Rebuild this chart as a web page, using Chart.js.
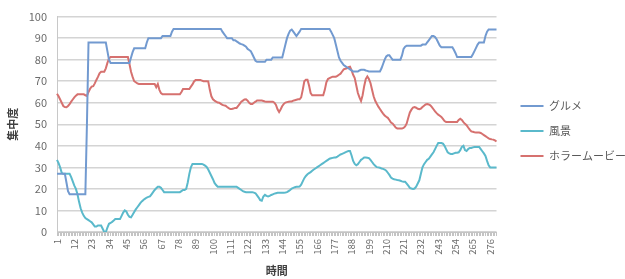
<html>
  <head>
    <title>集中度</title>
    <script src="https://cdn.jsdelivr.net/npm/chart.js"></script>
    <style>
      html, body { margin: 0; padding: 0; overflow: hidden; background: #fff; }
      #wrap { width: 636px; height: 279px; }
    </style>
  </head>
  <body>
    <div id="wrap"><canvas id="myChart"></canvas></div>

  <script>

    // series names (legend)
    const seriesNames = ["グルメ", "風景", "ホラームービー"];

    // time index 1..280, a label shown every 11 steps
    const times = [];
    for (let t = 1; t <= 280; t++) times.push(t);
    const labelEvery = 11;

    // values, 10 per row
    const gourmet = [
      27,27,27,27,27,27,23,19,17.5,17.5,
      17.5,17.5,17.5,17.5,17.5,17.5,17.5,17.5,17.5,50,
      88,88,88,88,88,88,88,88,88,88,
      88,88,84,80,78.5,78.5,78.5,78.5,78.5,78.5,
      78.5,78.5,78.5,78.5,78.5,78.5,78.5,81,83.5,85.3,
      85.3,85.3,85.3,85.3,85.3,85.3,85.3,88,90,90,
      90,90,90,90,90,90,90,91,91,91,
      91,91,91,93,94.3,94.3,94.3,94.3,94.3,94.3,
      94.3,94.3,94.3,94.3,94.3,94.3,94.3,94.3,94.3,94.3,
      94.3,94.3,94.3,94.3,94.3,94.3,94.3,94.3,94.3,94.3,
      94.3,94.3,94.3,94.3,94.3,93,92,91,90,90,
      90,90,89,89,88.5,88,87.5,87.2,87,86.5,
      86,85,84.5,84,82.5,81,79.5,79,79,79,
      79,79,79,80,80,80,80,81,81,81,
      81,81,81,81,84,87,90,92,93.5,94,
      93,92,91,92,93,94.3,94.3,94.3,94.3,94.3,
      94.3,94.3,94.3,94.3,94.3,94.3,94.3,94.3,94.3,94.3,
      94.3,94.3,94.3,94.3,93,91.5,90,87,84,81,
      79.5,78.5,77.5,77,76.5,76,75.5,75,74.5,74.5,
      74.5,74.5,75,75.3,75.3,75.3,75,74.8,74.5,74.5,
      74.5,74.5,74.5,74.5,74.5,74.5,76,78,80,81.5,
      82,82,81,80,80,80,80,80,80,82,
      85,86,86.5,86.5,86.5,86.5,86.5,86.5,86.5,86.5,
      86.5,86.5,87,87,87,88,89,90,91,91,
      90.5,89.5,88,86.5,85.8,85.8,85.8,85.8,85.8,85.8,
      85.8,85.8,84.5,83,81.2,81.2,81.2,81.2,81.2,81.2,
      81.2,81.2,81.2,81.2,82.5,84,85.5,87,88,88,
      88,88,91,93,94,94,94,94,94,94
    ];

    const scenery = [
      33.5,32,30,27.5,27,27,27,27,27,25.5,
      23.5,21.5,20,17.5,14,11,9,7.5,6.5,6,
      5.5,5,4.5,3.5,2.5,2.5,3,3,3,1.5,
      0,0,2,3.8,4.2,4.7,5.3,6,6,6,
      6,7.5,9,10,9.5,8,7,6.8,8,9.3,
      10.5,11.5,12.5,13.5,14.3,15,15.5,16,16.3,16.5,
      17.5,18.5,19.5,20.3,21,21,20.5,19.5,18.5,18.5,
      18.5,18.5,18.5,18.5,18.5,18.5,18.5,18.5,18.5,19,
      19.5,19.5,20,23,27,30,31.6,31.6,31.6,31.6,
      31.6,31.6,31.6,31.3,30.8,30.2,29,27.5,26,24.5,
      22.8,21.8,21,21,21,21,21,21,21,21,
      21,21,21,21,21,20.5,20,19.5,19,18.7,
      18.5,18.5,18.5,18.5,18.5,18.3,18,17,16,14.8,
      14.5,16.5,17.3,16.8,16.5,16.8,17.2,17.5,17.8,18,
      18.2,18.2,18.2,18.2,18.2,18.3,18.5,19,19.5,20.2,
      20.5,20.8,21,21,21.1,22,23.5,25,26,26.8,
      27.3,27.8,28.4,29,29.5,30,30.5,31,31.5,32,
      32.5,33,33.5,34,34.2,34.4,34.6,34.6,35,35.5,
      36,36.3,36.6,37,37.3,37.6,37.6,35.5,33,31.6,
      31,31.5,32.5,33.5,34,34.6,34.6,34.5,34.3,33.5,
      32.5,31.5,30.8,30.1,30,29.8,29.5,29.3,29,28.5,
      27.5,26.5,25.3,24.8,24.5,24.3,24.1,24,23.8,23.5,
      23.3,23.3,22.5,21.5,20.5,20.2,20,20.2,21,22.5,
      24,27,30,31.5,32.5,33.5,34,35,36,37,
      38.5,40,41.3,41.3,41.3,41,40,38.5,37,36.5,
      36.2,36.2,36.5,36.8,36.8,37,38,39.5,40,38,
      37.6,38.5,39,39,39.3,39.5,39.5,39.5,39.5,38.5,
      37.5,36.5,35.3,33,31,30,30,30,30,30
    ];

    const horror = [
      64.2,63,61.5,60,58.5,58,57.9,58.5,59.4,60.5,
      61.5,62.5,63.3,63.9,63.9,63.9,63.9,63.9,63.5,63.2,
      65,66.5,67.5,67.7,69,70.6,72,73.7,74.4,74.4,
      74.4,76,78.5,80.5,81.2,81.2,81.2,81.2,81.2,81.2,
      81.2,81.2,81.2,81.2,81.2,81.2,78,74.4,72,70,
      69.5,69,68.7,68.7,68.7,68.7,68.7,68.7,68.7,68.7,
      68.7,68.7,68.7,67.2,68.7,66,64.5,63.9,63.9,63.9,
      63.9,63.9,63.9,63.9,63.9,63.9,63.9,63.9,63.9,65,
      66.4,66.4,66.4,66.4,66.4,67.5,68.5,69.9,70.6,70.6,
      70.6,70.6,70.3,70,70,70,69.9,66,63,61.6,
      61,60.5,60.1,60,59.5,59,58.8,58.6,58,57.5,
      57.1,57.1,57.3,57.6,57.6,58.5,59.5,60.5,61,61.5,
      61.6,61,60,59.4,59.4,60,60.5,61.1,61.1,61.1,
      61,60.8,60.6,60.5,60.5,60.5,60.5,60.5,60,59,
      57,55.7,57,58.5,59.5,60.1,60.3,60.5,60.6,60.6,
      61,61.2,61.4,61.6,61.6,62.5,66,70,70.7,70.7,
      68,64.5,63.5,63.5,63.5,63.5,63.5,63.5,63.5,63.5,
      66,69.5,71,71.4,71.8,72.1,72.1,72.1,72.5,73,
      73.5,74.5,75.5,75.8,76,76.5,76.7,75,73,71.5,
      68,64.5,62.5,60.8,63.5,67.7,71,72.2,71,69.2,
      66,63,60.9,59.5,58.2,57.1,56,55,54.1,53.5,
      53,52,50.8,50.4,49.5,48.5,48.1,48.1,48.1,48.1,
      48.3,49,50.4,53,55.5,56.8,57.8,58,57.7,57.2,
      57,57.3,58,58.6,59.2,59.4,59.2,58.8,58,57,
      56,55.2,54.5,54,53.4,52.5,51.5,51.1,51.1,51.1,
      51.1,51.1,51.1,51.1,51.1,52,52.6,52,51,50.2,
      49.6,48.5,47.5,46.7,46.5,46.3,46.2,46.2,46.2,46,
      45.5,45,44.5,44,43.5,43.2,43,42.9,42.5,42
    ];

    const seriesColors = ["#729ad0", "#5ab9cb", "#d6716f"];

    Chart.defaults.font.family = "'Noto Sans CJK JP', 'Noto Sans', sans-serif";
    Chart.defaults.color = "#6b6b6b";

    const data = {
      labels: times,
      datasets: [gourmet, scenery, horror].map((vals, k) => ({
        label: seriesNames[k],
        data: vals,
        borderColor: seriesColors[k],
        backgroundColor: seriesColors[k],
        borderWidth: 2,
        pointRadius: 0,
        pointStyle: 'line',
        tension: 0
      }))
    };

    const config = {
      type: 'line',
      data: data,
      options: {
        responsive: true,
        maintainAspectRatio: false,
        animation: false,
        layout: { padding: { top: 10, left: 0, right: 0, bottom: 0 } },
        plugins: {
          tooltip: { enabled: false },
          legend: {
            position: 'right',
            align: 'start',
            maxWidth: 130,
            title: { display: true, text: '', font: { size: 10 }, padding: { top: 64.5, bottom: 0 } },
            labels: {
              usePointStyle: true,
              pointStyle: 'line',
              pointStyleWidth: 23,
              padding: 14,
              color: '#595959',
              font: { size: 11 }
            }
          }
        },
        scales: {
          x: {
            ticks: {
              autoSkip: false,
              minRotation: 90,
              maxRotation: 90,
              padding: 3,
              font: { size: 9.5 },
              color: '#6b6b6b',
              callback: function(v, i) {
                return i % labelEvery === 0 ? this.getLabelForValue(v) : '';
              }
            },
            grid: { drawOnChartArea: false, drawTicks: true, tickLength: 4, color: '#c4c4c4' },
            border: { display: true, color: '#c4c4c4' },
            title: {
              display: true, text: '時間', color: '#404040',
              font: { size: 11, weight: 'bold' }, padding: { top: 0, bottom: 1.5 }
            },
            afterFit: function(s) { s.height = 47; }
          },
          y: {
            min: 0,
            max: 100,
            ticks: { stepSize: 10, padding: 10, font: { size: 11 }, color: '#6b6b6b' },
            grid: { color: '#d4d4d4', lineWidth: 1.5, drawTicks: false },
            border: { display: true, color: '#c8c8c8' },
            title: {
              display: true, text: '集中度', color: '#404040',
              font: { size: 11, weight: 'bold' }, padding: { top: 6.4, bottom: 0 }
            },
            afterFit: function(s) { s.width = 57; }
          },
          gap: {
            position: 'right',
            display: true,
            grid: { display: false },
            ticks: { display: false },
            border: { display: false },
            afterFit: function(s) { s.width = 10; }
          }
        }
      }
    };

    window.myChart = new Chart(document.getElementById('myChart'), config);

  </script>
  </body>
</html>
